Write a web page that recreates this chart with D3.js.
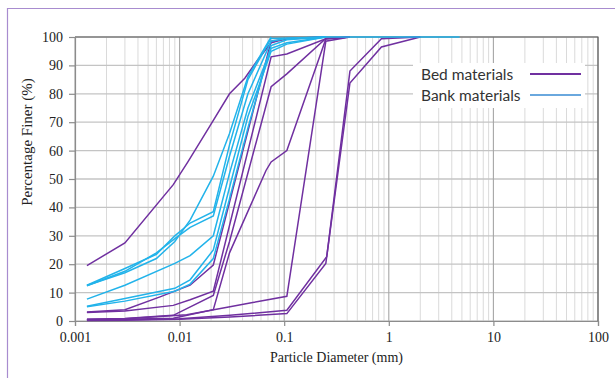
<!DOCTYPE html>
<meta charset="utf-8" />
<style>
  body { margin: 0; background: #fff; }
  .tick text { font-family: "Liberation Serif", serif; font-size: 14px; fill: #222; }
  .title { font-family: "Liberation Serif", serif; font-size: 14px; fill: #222; }
  .ytitle { font-size: 15px; }
  .legend { font-family: Lato, "Open Sans", sans-serif; font-size: 15.5px; fill: #333; }
</style>
<body>
<script src="https://d3js.org/d3.v7.min.js"></script>
<script>
// gradation curves, [diameter mm, percent finer]
var bed = [
  [[0.0013,19.5],[0.003,27.5],[0.0087,48],[0.012,56],[0.019,68],[0.03,80],[0.042,85.5],[0.056,92],[0.075,98],[0.106,99.5],[0.25,100]],
  [[0.0013,3],[0.003,3.5],[0.0087,5.5],[0.0126,7.5],[0.021,10.5],[0.075,93],[0.106,94],[0.25,99.4],[0.425,100]],
  [[0.0013,3.2],[0.003,4],[0.0065,8.5],[0.0126,12.6],[0.021,19.7],[0.075,98.5],[0.106,99.3],[0.25,100]],
  [[0.0013,0.6],[0.003,0.9],[0.0087,2],[0.021,9],[0.03,28],[0.075,82.5],[0.106,87],[0.25,99.5],[0.425,100]],
  [[0.0013,0.5],[0.003,0.6],[0.0087,1],[0.021,4],[0.03,24],[0.067,53],[0.075,56],[0.106,60],[0.25,99.3],[0.425,100]],
  [[0.0013,0.5],[0.003,0.8],[0.0117,2.2],[0.0303,5],[0.05,6.5],[0.106,8.7],[0.25,98.5],[0.425,100]],
  [[0.0013,0.3],[0.003,0.4],[0.01,0.8],[0.0303,2],[0.106,3.8],[0.255,22.6],[0.425,88],[0.85,99.4],[2,100]],
  [[0.0013,0.2],[0.003,0.3],[0.01,0.6],[0.0303,1.4],[0.106,2.6],[0.25,20.3],[0.425,83.8],[0.85,96.5],[2,100]]
];
var bank = [
  [[0.0013,12.6],[0.003,18.5],[0.006,23.5],[0.009,30],[0.0126,34.5],[0.021,38.5],[0.03,62],[0.045,85],[0.075,99.5],[0.25,100],[4.75,100]],
  [[0.0013,12.4],[0.003,17.5],[0.006,24],[0.009,29],[0.0126,33],[0.021,37],[0.03,58],[0.045,80],[0.075,98.5],[0.106,99.5],[0.25,100]],
  [[0.0013,12.5],[0.003,17],[0.006,22],[0.009,28],[0.0126,35.5],[0.021,51],[0.03,66],[0.045,86],[0.075,100]],
  [[0.0013,7.7],[0.003,12.6],[0.009,20.3],[0.0126,23],[0.021,30],[0.03,52],[0.045,75],[0.075,96],[0.106,98],[0.25,100]],
  [[0.0013,5.2],[0.003,7.9],[0.009,11.5],[0.0126,14.5],[0.021,25],[0.03,47],[0.045,72],[0.075,95],[0.106,97.5],[0.25,100]],
  [[0.0013,5],[0.003,7],[0.009,10.5],[0.0126,13],[0.021,22],[0.03,43],[0.045,68],[0.075,97],[0.106,99],[0.25,100]]
];
var xTicks = [0.001, 0.01, 0.1, 1, 10, 100];
var yTicks = [0, 10, 20, 30, 40, 50, 60, 70, 80, 90, 100];
var legendNames = ["Bed materials", "Bank materials"];

var width = 615, height = 378;
var m = { left: 75, right: 17, top: 37, bottom: 57 };

var svg = d3.select("body").append("svg")
  .attr("width", width).attr("height", height);

// outer frame (top and left only show)
svg.append("path")
  .attr("d", "M7.5," + height + "V8.5H" + width)
  .attr("fill", "none").attr("stroke", "#a88ccf").attr("stroke-width", 1.2);

var x = d3.scaleLog().domain([0.001, 100]).range([m.left, width - m.right]);
var y = d3.scaleLinear().domain([0, 100]).range([height - m.bottom, m.top]);

// minor vertical grid
var minor = [];
for (var e = -3; e < 2; e++) for (var k = 2; k <= 9; k++) minor.push(k * Math.pow(10, e));
svg.append("g").selectAll("line").data(minor).join("line")
  .attr("x1", d => x(d)).attr("x2", d => x(d))
  .attr("y1", y(0)).attr("y2", y(100))
  .attr("stroke", "#dadada").attr("stroke-width", 1);
// horizontal grid
svg.append("g").selectAll("line").data(yTicks).join("line")
  .attr("x1", x(0.001)).attr("x2", x(100))
  .attr("y1", d => y(d)).attr("y2", d => y(d))
  .attr("stroke", "#c4c4c4").attr("stroke-width", 1.3);
// major vertical grid
svg.append("g").selectAll("line").data(xTicks).join("line")
  .attr("x1", d => x(d)).attr("x2", d => x(d))
  .attr("y1", y(0)).attr("y2", y(100))
  .attr("stroke", "#a6a6a6").attr("stroke-width", 1.1);

// plot border top/right
svg.append("path")
  .attr("d", "M" + x(0.001) + "," + y(100) + "H" + x(100) + "V" + y(0))
  .attr("fill", "none").attr("stroke", "#595959").attr("stroke-width", 1.1);

// axes
var xAxis = svg.append("g").attr("transform", "translate(0," + y(0) + ")")
  .call(d3.axisBottom(x).tickValues(xTicks).tickFormat(d3.format("~g")).tickSize(5).tickPadding(6));
var yAxis = svg.append("g").attr("transform", "translate(" + m.left + ",0)")
  .call(d3.axisLeft(y).tickValues(yTicks).tickSize(6).tickPadding(6));
[xAxis, yAxis].forEach(function(a) {
  a.selectAll("path,line").attr("stroke", "#8c8c8c").attr("stroke-width", 1.2);
});

var line = d3.line().x(d => x(d[0])).y(d => y(d[1]));

svg.append("g").selectAll("path").data(bed).join("path")
  .attr("d", line).attr("fill", "none")
  .attr("stroke", "#7030a0").attr("stroke-width", 1.5);
svg.append("g").selectAll("path").data(bank).join("path")
  .attr("d", line).attr("fill", "none")
  .attr("stroke", "#22b3ea").attr("stroke-width", 1.5);

// titles
svg.append("text").attr("class", "title")
  .attr("x", (x(0.001) + x(100)) / 2).attr("y", 362)
  .attr("text-anchor", "middle").text("Particle Diameter (mm)");
svg.append("text").attr("class", "title ytitle")
  .attr("transform", "translate(32,142) rotate(-90)")
  .attr("text-anchor", "middle").text("Percentage Finer (%)");

// legend
var lg = svg.append("g");
lg.append("rect").attr("x", 413).attr("y", 63).attr("width", 172).attr("height", 45).attr("fill", "#fff");
var lcol = ["#7030a0", "#6aa8de"];
legendNames.forEach(function(n, i) {
  var yy = 74 + i * 21;
  lg.append("text").attr("class", "legend").attr("x", 421).attr("y", yy + 5.5).text(n);
  lg.append("line").attr("x1", 530).attr("x2", 581).attr("y1", yy).attr("y2", yy)
    .attr("stroke", lcol[i]).attr("stroke-width", 2);
});
</script>
</body>
